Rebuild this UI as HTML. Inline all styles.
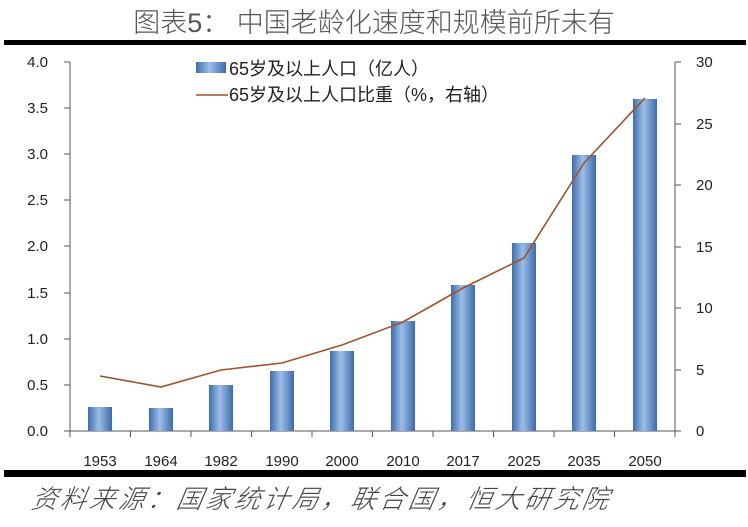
<!DOCTYPE html><html><head><meta charset="utf-8"><style>
body{margin:0;background:#fff;width:748px;height:522px;overflow:hidden}
svg text{font-family:"Liberation Sans","Noto Sans CJK SC",sans-serif}
</style></head><body>
<svg width="748" height="522" viewBox="0 0 748 522">
<defs><linearGradient id="g" x1="0" x2="1"><stop offset="0" stop-color="#3c6fb0"/><stop offset="0.45" stop-color="#9dbde6"/><stop offset="1" stop-color="#3b6bab"/></linearGradient></defs>
<text x="374" y="32" text-anchor="middle" font-size="27" fill="#555" font-weight="300" font-family="Noto Sans CJK SC">图表5：  中国老龄化速度和规模前所未有</text>
<rect x="4" y="40" width="742" height="5" fill="#000"/>
<rect x="4" y="470" width="742" height="7" fill="#000"/>
<text x="30" y="508" font-size="26" fill="#444" font-style="italic" font-weight="300" font-family="Noto Sans CJK SC" letter-spacing="3" transform="skewX(-10) translate(90,0)">资料来源：国家统计局，联合国，恒大研究院</text>
<g stroke="#555" stroke-width="1" fill="none">
<path d="M70 62V431H675V62"/>
<path d="M64 62H70M64 108H70M64 154H70M64 200H70M64 246H70M64 293H70M64 339H70M64 385H70M64 431H70"/>
<path d="M675 62H681M675 124H681M675 185H681M675 247H681M675 308H681M675 370H681M675 431H681"/>
<path d="M70 431V437M130.5 431V437M191 431V437M251.5 431V437M312 431V437M372.5 431V437M433 431V437M493.5 431V437M554 431V437M614.5 431V437M675 431V437"/>
</g>
<g font-size="15" fill="#222" text-anchor="end">
<text x="48" y="67">4.0</text><text x="48" y="113">3.5</text><text x="48" y="159">3.0</text><text x="48" y="205">2.5</text><text x="48" y="251">2.0</text><text x="48" y="298">1.5</text><text x="48" y="344">1.0</text><text x="48" y="390">0.5</text><text x="48" y="436">0.0</text>
</g>
<g font-size="15" fill="#222">
<text x="696" y="67">30</text><text x="696" y="129">25</text><text x="696" y="190">20</text><text x="696" y="252">15</text><text x="696" y="313">10</text><text x="696" y="375">5</text><text x="696" y="436">0</text>
</g>
<g font-size="15" fill="#222" text-anchor="middle">
<text x="100" y="466">1953</text><text x="161" y="466">1964</text><text x="221" y="466">1982</text><text x="282" y="466">1990</text><text x="342" y="466">2000</text><text x="403" y="466">2010</text><text x="463" y="466">2017</text><text x="524" y="466">2025</text><text x="584" y="466">2035</text><text x="645" y="466">2050</text>
</g>
<g fill="url(#g)">
<rect x="88" y="407" width="24" height="24"/>
<rect x="149" y="408" width="24" height="23"/>
<rect x="209" y="385" width="24" height="46"/>
<rect x="270" y="371" width="24" height="60"/>
<rect x="330" y="351" width="24" height="80"/>
<rect x="391" y="321" width="24" height="110"/>
<rect x="451" y="285" width="24" height="146"/>
<rect x="512" y="243" width="24" height="188"/>
<rect x="572" y="155" width="24" height="276"/>
<rect x="633" y="99" width="24" height="332"/>
</g>
<polyline fill="none" stroke="#a0522d" stroke-width="1.6" points="100,376 161,387 221,370 282,363 342,345 403,322 463,288 524,258 584,163 645,98"/>
<rect x="196" y="62" width="30" height="11" fill="url(#g)"/>
<text x="229" y="75" font-size="18" fill="#222">65岁及以上人口（亿人）</text>
<line x1="196" y1="95" x2="228" y2="95" stroke="#a0522d" stroke-width="1.6"/>
<text x="229" y="101" font-size="18" fill="#222">65岁及以上人口比重（%，右轴）</text>
</svg></body></html>
